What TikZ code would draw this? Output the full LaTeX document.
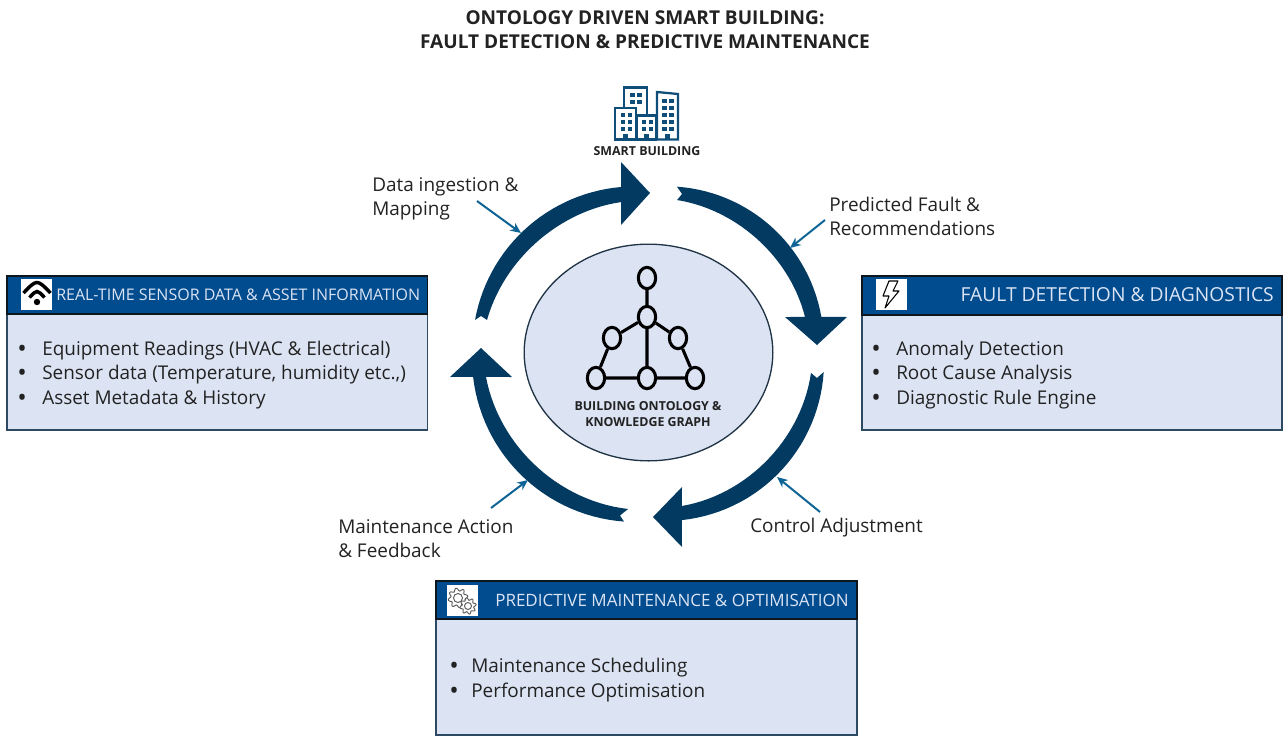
\documentclass[tikz,border=0pt]{standalone}
\usepackage{fontspec}
\setmainfont{Open Sans}
\usetikzlibrary{shapes.geometric,arrows.meta}
\definecolor{navy}{HTML}{033A61}
\definecolor{headblue}{HTML}{004C8F}
\definecolor{bodyblue}{HTML}{DCE4F4}
\definecolor{edgeblue}{HTML}{2E4A62}
\definecolor{leader}{HTML}{0F6496}
\definecolor{icon}{HTML}{0E4E78}
\definecolor{ink}{HTML}{222222}
\newlength{\bl}
\setlength{\bl}{25\dimexpr0.75pt\relax}
\newcommand{\bul}{{\fontsize{19}{18}\selectfont\raisebox{-1.4pt}{•}}}
\tikzset{
 bodybox/.style={fill=bodyblue,draw=edgeblue,line width=1.2pt},
 headbox/.style={fill=headblue,draw=black!70!edgeblue,line width=1.2pt},
 iconbox/.style={fill=white,draw=none},
 headtext/.style={text=bodyblue,inner sep=0,anchor=west},
 bodytext/.style={text=ink,inner sep=0,anchor=west,align=left,font=\fontsize{14.2}{18.4}\selectfont},
 flowlabel/.style={text=ink,inner sep=0,anchor=west,align=left,font=\fontsize{14.2}{18.2}\selectfont},
 leaderline/.style={draw=leader,line width=1.5pt,-{Stealth[length=8pt,width=7pt]}},
 net/.style={ellipse,draw=black,fill=bodyblue,line width=2.3pt,inner sep=0,minimum width=13pt,minimum height=16pt},
 netedge/.style={draw=black,line width=2.3pt},
 win/.style={fill=icon},
}
\begin{document}
\begin{tikzpicture}[x=0.75pt,y=-0.75pt]
\useasboundingbox (0,0) rectangle (1283,736);
% title
\node[inner sep=0,align=center,text=ink,font=\bfseries\fontsize{14.3}{18}\selectfont] (title) at (645,30) {ONTOLOGY DRIVEN SMART BUILDING:\\FAULT DETECTION \& PREDICTIVE MAINTENANCE};
% ring arrows
\fill[navy] plot[domain=169.7:94.9,samples=30] ({635+162.6*cos(\x)},{349-162.6*sin(\x)})
  -- (621,162) -- (650,193) -- (621,225)
  -- plot[domain=95.4:168.9,samples=30] ({635+(147.6+(\x-95.4)/73.5*3.2-4*sin((\x-95.4)/73.5*180))*cos(\x)},{349-(147.6+(\x-95.4)/73.5*3.2-4*sin((\x-95.4)/73.5*180))*sin(\x)})
  -- (481,316) -- cycle;
\fill[navy] plot[domain=86:9.9,samples=30] ({666+157.7*cos(\x)},{344-157.7*sin(\x)})
  -- (847,317) -- (817,345) -- (785,317)
  -- plot[domain=11:85.6,samples=30] ({666+(141.6+(\x-11)/74.6*2.8-4*sin((\x-11)/74.6*180))*cos(\x)},{344-(141.6+(\x-11)/74.6*2.8-4*sin((\x-11)/74.6*180))*sin(\x)})
  -- (682,194) -- cycle;
\fill[navy] plot[domain=-3.6:-83.9,samples=30] ({665+159*cos(\x)},{362-159*sin(\x)})
  -- (682,547) -- (653,517) -- (682,487)
  -- plot[domain=-83.3:-4.3,samples=30] ({665+(145+(\x+83.3)/79*1.4-4*sin((\x+83.3)/79*180))*cos(\x)},{362-(145+(\x+83.3)/79*1.4-4*sin((\x+83.3)/79*180))*sin(\x)})
  -- (817,378) -- cycle;
\fill[navy] plot[domain=265.8:186.6,samples=30] ({636+164*cos(\x)},{358-164*sin(\x)})
  -- (450,377) -- (481,348) -- (512,377)
  -- plot[domain=187.2:267,samples=30] ({636+(151.2-4*sin((\x-187.2)/79.8*180))*cos(\x)},{358-(151.2-4*sin((\x-187.2)/79.8*180))*sin(\x)})
  -- (620,515.5) -- cycle;
% centre
\node[ellipse,fill=bodyblue,draw=edgeblue!70!black,line width=1pt,minimum width=186.5pt,minimum height=162.5pt,inner sep=0] (core) at (648.5,352.5) {};
\node[net] (n1) at (647,278) {};
\node[net] (n2) at (647,317) {};
\node[net] (n3) at (612,338) {};
\node[net] (n4) at (678,338) {};
\node[net] (n5) at (596,378) {};
\node[net] (n6) at (647,378) {};
\node[net] (n7) at (695,378) {};
\draw[netedge] (n1)--(n2) (n2)--(n3) (n2)--(n4) (n2)--(n6) (n3)--(n5) (n4)--(n7) (n5)--(n6) (n6)--(n7);
\node[inner sep=0,align=center,text=ink,font=\bfseries\fontsize{9.3}{12}\selectfont] (corelabel) at (648,414) {BUILDING ONTOLOGY \&\\KNOWLEDGE GRAPH};
% smart building icon
\begin{scope}[draw=icon,line width=1.7pt,fill=white,line join=miter]
\draw (624,108) -- (624,87.5) -- (647,87.5) -- (647,115);
\draw (657,139.5) -- (657,92) -- (678,94) -- (678,139.5) -- cycle;
\draw (615,139.5) -- (615,108) -- (636,108) -- (636,139.5) -- cycle;
\draw (637,139.5) -- (637,115.5) -- (656,115.5) -- (656,139.5) -- cycle;
\end{scope}
\foreach \x in {630,637}{\foreach \y in {93,100}{\fill[win] (\x,\y) rectangle +(4.5,4);}}
\foreach \x in {621,628}{\foreach \y in {113,120,127}{\fill[win] (\x,\y) rectangle +(4,4);}}
\foreach \x in {642,649}{\foreach \y in {120,127}{\fill[win] (\x,\y) rectangle +(4,4);}}
\foreach \x in {662,669}{\foreach \y in {99,106,113,120,127}{\fill[win] (\x,\y) rectangle +(4.5,4);}}
\foreach \x in {623,644,664.5}{\fill[win] (\x,134) rectangle +(5,6);}
\node[inner sep=0,text=ink,font=\bfseries\fontsize{9.3}{10}\selectfont] (sb) at (647,151) {SMART BUILDING};
% left box
\draw[bodybox] (7,314) rectangle (427.5,430);
\draw[headbox] (7,276) rectangle (427.5,314);
\fill[iconbox] (21,279) rectangle (52,310);
\draw[black,line width=2.6pt] (23.5,293) .. controls (37,279) .. (50.5,293);
\draw[black,line width=2.6pt] (29.5,297.5) .. controls (37,289.5) .. (44.5,297.5);
\fill[black] (37,302) circle[radius=3.2];
\node[headtext,font=\fontsize{12}{16}\selectfont] (lefth) at (56,295) {REAL-TIME SENSOR DATA \& ASSET INFORMATION};
\node[bodytext] (leftl) at (17,375) {\makebox[\bl][l]{\bul}Equipment Readings (HVAC \& Electrical)\\\makebox[\bl][l]{\bul}Sensor data (Temperature, humidity etc.,)\\\makebox[\bl][l]{\bul}Asset Metadata \& History};
% right box
\draw[bodybox] (862,315) rectangle (1282,430);
\draw[headbox] (862,276) rectangle (1282,315);
\fill[iconbox] (876,279) rectangle (907,310);
\draw[black,line width=0.8pt,line join=round] (889,281) -- (898,281) -- (893,291) -- (899,291) -- (885,308) -- (889,296) -- (883,296) -- cycle;
\node[headtext,anchor=east,font=\fontsize{14.45}{16}\selectfont] (righth) at (1274,295) {FAULT DETECTION \& DIAGNOSTICS};
\node[bodytext] (rightl) at (871,375) {\makebox[\bl][l]{\bul}Anomaly Detection\\\makebox[\bl][l]{\bul}Root Cause Analysis\\\makebox[\bl][l]{\bul}Diagnostic Rule Engine};
% bottom box
\draw[bodybox] (436,619) rectangle (857,735);
\draw[headbox] (436,581) rectangle (857,619);
\fill[iconbox] (447,585) rectangle (478,616);
\draw[black!65,line width=0.7pt] plot[domain=0:360,samples=97,smooth] ({458+(8.5+1.4*sin(8*\x))*cos(\x)},{598-(8.5+1.4*sin(8*\x))*sin(\x)});
\draw[black!65,line width=0.7pt] (458,598) circle[radius=4.5];
\draw[black!65,fill=white,line width=0.7pt] plot[domain=0:360,samples=97,smooth] ({468+(7+1.2*sin(8*\x))*cos(\x)},{606-(7+1.2*sin(8*\x))*sin(\x)});
\draw[black!65,line width=0.7pt] (468,606) circle[radius=3.5];
\node[headtext,font=\fontsize{12.75}{16}\selectfont] (both) at (495,600) {PREDICTIVE MAINTENANCE \& OPTIMISATION};
\node[bodytext] (botl) at (449,680) {\makebox[22\dimexpr0.75pt\relax][l]{\bul}Maintenance Scheduling\\\makebox[22\dimexpr0.75pt\relax][l]{\bul}Performance Optimisation};
% flow labels
\node[flowlabel] (l1) at (372,198.5) {Data ingestion \&\\Mapping};
\node[flowlabel] (l2) at (829,216.5) {Predicted Fault \&\\Recommendations};
\node[flowlabel] (l3) at (750,528) {Control Adjustment};
\node[flowlabel] (l4) at (338,539) {Maintenance Action\\\& Feedback};
% leaders
\coordinate (a1s) at (477,201); \coordinate (a1e) at (521,233);
\coordinate (a2s) at (825,220); \coordinate (a2e) at (790,248);
\coordinate (a3s) at (820,512); \coordinate (a3e) at (777,477);
\coordinate (a4s) at (491,508); \coordinate (a4e) at (528,480);
\draw[leaderline] (a1s) -- (a1e);
\draw[leaderline] (a2s) -- (a2e);
\draw[leaderline] (a3s) -- (a3e);
\draw[leaderline] (a4s) -- (a4e);
\end{tikzpicture}
\end{document}
